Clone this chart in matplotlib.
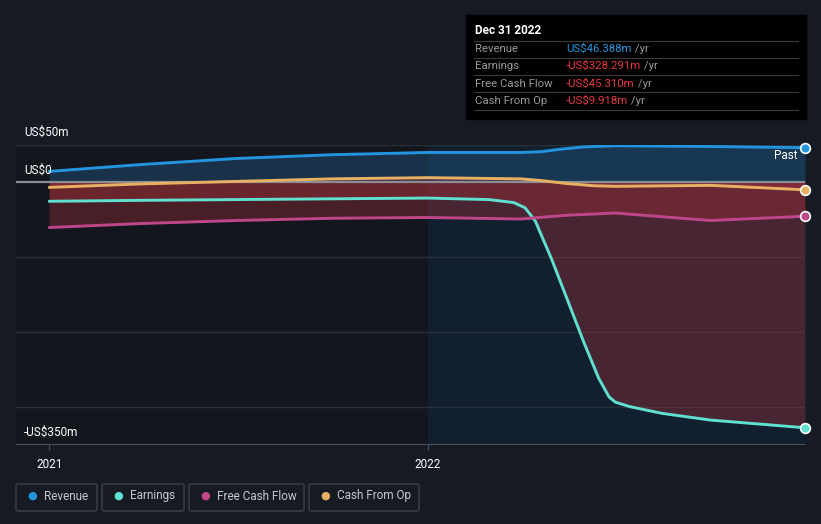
import numpy as np
import pandas as pd
import matplotlib.pyplot as plt
import matplotlib.dates as mdates
from matplotlib.patches import Rectangle, FancyBboxPatch
from matplotlib.text import Annotation

plt.rcParams['font.family'] = ['Roboto', 'DejaVu Sans']

# values in US$ millions
rev_dates = ['2021-01-01', '2021-04-01', '2021-07-01', '2021-10-01', '2022-01-01',
             '2022-04-01', '2022-04-20', '2022-05-10', '2022-06-01', '2022-07-01',
             '2022-08-15', '2022-10-01', '2022-12-31']
revenue = [14.7, 24, 32, 37, 40, 40, 41, 44.5, 47.5, 49, 48.5, 48, 46.388]

cfo_dates = ['2021-01-01', '2021-04-01', '2021-07-01', '2021-10-01', '2022-01-01',
             '2022-04-01', '2022-04-20', '2022-05-15', '2022-06-10', '2022-07-01',
             '2022-10-01', '2022-12-31']
cash_from_op = [-6.7, -2, 1.3, 4.7, 6.3, 4.7, 2.5, -1.5, -4.5, -5.3, -4, -9.918]

earn_dates = ['2021-01-01', '2021-04-01', '2021-07-01', '2021-10-01', '2022-01-01',
              '2022-03-01', '2022-03-25', '2022-04-05', '2022-04-15', '2022-05-01',
              '2022-06-01', '2022-06-15', '2022-06-25', '2022-07-01', '2022-07-15',
              '2022-08-15', '2022-10-01', '2022-12-31']
earnings = [-25.3, -24, -23, -22, -21, -23, -27, -34, -52, -104, -215, -262, -287,
            -294, -300, -309, -318, -328.291]

fcf_dates = ['2021-01-01', '2021-04-01', '2021-07-01', '2021-10-01', '2022-01-01',
             '2022-04-01', '2022-05-15', '2022-07-01', '2022-08-15', '2022-10-01',
             '2022-12-31']
free_cash_flow = [-60.4, -55, -51, -48, -47, -49, -44, -41, -46, -51, -45.31]

BG = '#151a23'
C_REV = '#2394df'
C_EARN = '#5fe0d0'
C_FCF = '#c0468a'
C_CFO = '#e8b063'

W, H = 821, 524
fig = plt.figure(figsize=(W / 100, H / 100), dpi=100, facecolor=BG)


def fx(x):
    return x / W


def fy(y):
    return 1 - y / H


ax = fig.add_axes([fx(16), fy(444), fx(805) - fx(16), fy(145) - fy(444)])
ax.set_facecolor('#13161d')

x0 = pd.Timestamp('2020-11-30')
x1 = pd.Timestamp('2022-12-31')
ax.set_xlim(x0, x1)
ax.set_ylim(-350, 50)

# highlighted "past" region
ax.axvspan(pd.Timestamp('2022-01-01'), x1, color='#112233', alpha=0.85, lw=0, zorder=0)

for g in [50, -100, -200, -300]:
    ax.axhline(g, color='#2c3038', lw=1, zorder=1)
ax.axhline(0, color='#8a8d93', lw=1.6, zorder=4)

series = [
    (rev_dates, revenue, C_REV),
    (earn_dates, earnings, C_EARN),
    (fcf_dates, free_cash_flow, C_FCF),
    (cfo_dates, cash_from_op, C_CFO),
]

for d, v, c in series:
    t = pd.to_datetime(d)
    v = np.array(v)
    if c == C_REV:
        ax.fill_between(t, 0, v, color='#1e4a70', alpha=0.55, lw=0, zorder=2)
    else:
        ax.fill_between(t, 0, v, color='#a8303a', alpha=0.36, lw=0, zorder=2)

for d, v, c in series:
    t = pd.to_datetime(d)
    ax.plot(t, v, color=c, lw=2.1, zorder=5, solid_capstyle='round',
            solid_joinstyle='round')
    ax.plot([t[-1]], [v[-1]], 'o', ms=7, mfc=c, mec='white', mew=1.2, zorder=6,
            clip_on=False)

for s in ['top', 'right', 'left']:
    ax.spines[s].set_visible(False)
ax.spines['bottom'].set_color('#4a4e56')
ax.set_yticks([])
ax.xaxis.set_major_locator(mdates.YearLocator())
ax.xaxis.set_major_formatter(mdates.DateFormatter('%Y'))
ax.tick_params(axis='x', colors='#4a4e56', labelcolor='white', labelsize=8.5,
               length=4, pad=6)

# y labels sitting above their gridlines
for lab, yp in [('US$50m', 132), ('US$0', 170), ('-US$350m', 432)]:
    fig.text(fx(24), fy(yp), lab, color='white', fontsize=8.5, va='center', ha='left')

fig.text(fx(797), fy(156), 'Past', color='white', fontsize=8.5, va='center', ha='right')

# tooltip box
fig.patches.append(Rectangle((fx(466), fy(119)), fx(806) - fx(466), fy(15) - fy(119),
                             transform=fig.transFigure, color='black', zorder=10))
fig.text(fx(475), fy(31), 'Dec 31 2022', color='white', fontsize=8.5,
         fontweight='bold', va='center', zorder=11)
for yl in [41, 58, 75, 92, 110]:
    fig.lines.append(plt.Line2D([fx(474), fx(798)], [fy(yl), fy(yl)],
                                transform=fig.transFigure, color='#3a3a3a', lw=0.8,
                                zorder=11))
rows = [('Revenue', 'US$46.388m', C_REV),
        ('Earnings', '-US$328.291m', '#e8393e'),
        ('Free Cash Flow', '-US$45.310m', '#e8393e'),
        ('Cash From Op', '-US$9.918m', '#e8393e')]
for i, (lab, val, col) in enumerate(rows):
    yy = fy(49 + i * 17.3)
    fig.text(fx(475), yy, lab, color='#9a9a9a', fontsize=8.2, va='center', zorder=11)
    t = fig.text(fx(566), yy, val, color=col, fontsize=8.2, va='center', zorder=11)
    yr = Annotation(' /yr', xy=(1, 0.5), xycoords=t, va='center', ha='left',
                    color='#9a9a9a', fontsize=8.2)
    yr.set_zorder(12)
    fig.add_artist(yr)

# legend boxes
legend = [('Revenue', C_REV, 16, 97), ('Earnings', C_EARN, 102, 184),
          ('Free Cash Flow', C_FCF, 189, 304), ('Cash From Op', C_CFO, 309, 419)]
for lab, col, xa, xb in legend:
    fig.patches.append(FancyBboxPatch((fx(xa), fy(511)), fx(xb) - fx(xa), fy(484) - fy(511),
                                      boxstyle='round,pad=0,rounding_size=0.003',
                                      transform=fig.transFigure, fc='none',
                                      ec='#3c414b', lw=1))
    fig.text(fx(xa + 16), fy(496), '\u25CF', color=col, fontsize=8, va='center',
             ha='center')
    fig.text(fx(xa + 28), fy(496), lab, color='#c8c8c8', fontsize=8.5, va='center',
             ha='left')

fig.savefig('out.png', dpi=100, facecolor=BG)
